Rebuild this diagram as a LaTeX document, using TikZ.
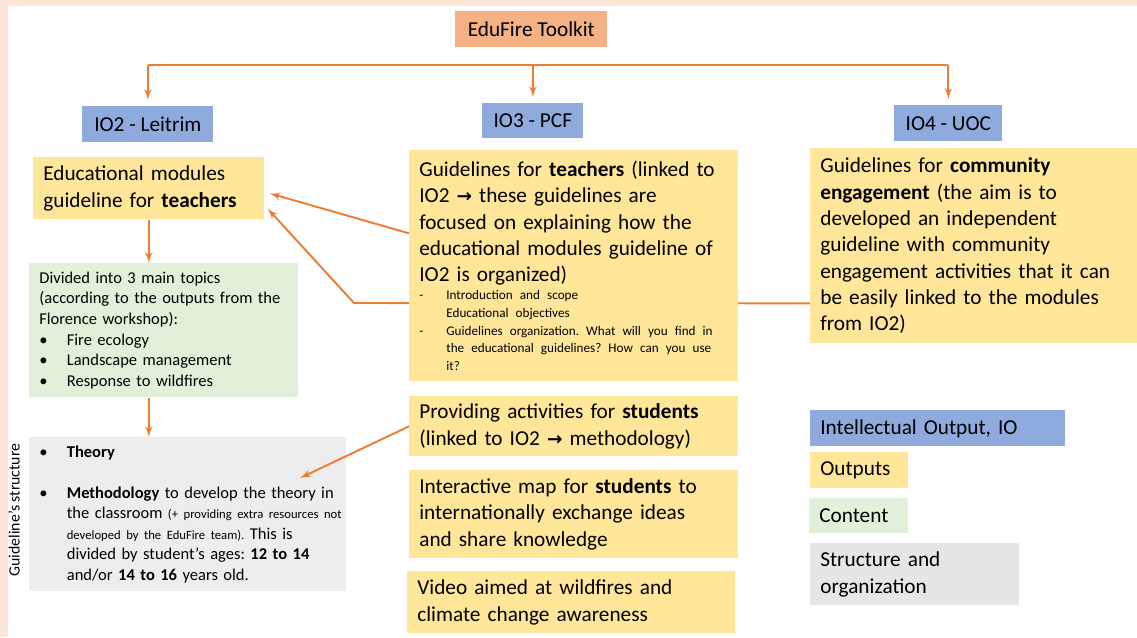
\documentclass[tikz,border=0pt]{standalone}
\usepackage{fontspec}
\setmainfont{Carlito}
\newfontfamily\symfont{DejaVu Sans}
\usetikzlibrary{arrows,backgrounds}
\frenchspacing

\definecolor{frame}{HTML}{FCE4D6}
\definecolor{linkor}{HTML}{ED7D31}
\definecolor{toolor}{HTML}{F4B183}
\definecolor{iobl}{HTML}{8FAADC}
\definecolor{outye}{HTML}{FFE699}
\definecolor{contgr}{HTML}{E2F0D9}
\definecolor{strgr}{HTML}{EDEDED}
\definecolor{leggr}{HTML}{E7E6E6}

\newcommand{\toarr}{{\symfont\bfseries\fontsize{10.5}{10}\selectfont →}}
\newcommand{\bul}{\makebox[0.55cm][l]{•}}
\newcommand{\dsh}{\makebox[0.54cm][l]{-}}

\tikzset{
    box/.style={anchor=north west, inner xsep=0.2cm, inner ysep=0pt, align=left,
        font=\fontsize{12.1}{15}\selectfont},
    iobox/.style={box, fill=iobl, align=center},
    outbox/.style={box, fill=outye},
    contbox/.style={box, fill=contgr, font=\fontsize{9.4}{11.7}\selectfont},
    strbox/.style={box, fill=strgr, font=\fontsize{9.4}{11.7}\selectfont},
    link/.style={draw=linkor, line width=1.1pt},
    arr/.style={link, -latex'}
}

\begin{document}
\begin{tikzpicture}[x=0.02cm, y=-0.02cm]
    \useasboundingbox (0,0) rectangle (1137,637);
    \fill [frame] (0,0) rectangle (1137,6);
    \fill [frame] (0,0) rectangle (8,637);

    % top of the tree
    \node [box, fill=toolor, align=center, minimum width=3.04cm, minimum height=0.72cm] (tool) at (455,11) {EduFire Toolkit};
    \node [iobox, minimum width=2.62cm, minimum height=0.72cm] (io2) at (82,106) {IO2 - Leitrim};
    \node [iobox, minimum width=2.02cm, minimum height=0.70cm] (io3) at (482,103) {IO3 - PCF};
    \node [iobox, minimum width=2.16cm, minimum height=0.72cm] (io4) at (894,105) {IO4 - UOC};
    \coordinate (bar) at (533,65);

    % IO2 column
    \node [outbox, text width=4.22cm, minimum height=1.24cm] (modl) at (33,157)
        {Educational modules\\guideline for \textbf{teachers}};
    \node [contbox, text width=4.98cm, minimum height=2.68cm] (topics) at (29,263)
        {Divided into 3 main topics\\(according to the outputs from the\\Florence workshop):\\
         \bul Fire ecology\\\bul Landscape management\\\bul Response to wildfires};
    \node [strbox, text width=5.94cm, minimum height=3.08cm] (struct) at (29,437)
        {\bul\textbf{Theory}\par\vspace{11.7pt}
         \mbox{\bul\textbf{Methodology} to develop the theory in}\\
         \mbox{\hspace*{0.55cm}the classroom {\fontsize{7.2}{11.7}\selectfont(+ providing extra resources not}}\\
         \mbox{\hspace*{0.55cm}{\fontsize{7.2}{11.7}\selectfont developed by the EduFire team).} This is}\\
         \mbox{\hspace*{0.55cm}divided by student’s ages: \textbf{12 to 14}}\\
         \mbox{\hspace*{0.55cm}and/or \textbf{14 to 16} years old.}};
    \node [rotate=90, font=\fontsize{9}{11}\selectfont] (glabel) at (14,510) {Guideline’s structure};

    % IO3 column
    \node [outbox, text width=6.18cm, minimum height=4.62cm] (teach) at (409,150)
        {Guidelines for \textbf{teachers} (linked to\\IO2 \toarr{} these guidelines are\\
         focused on explaining how the\\educational modules guideline of\\IO2 is organized)\par
         {\fontsize{7.5}{10.1}\selectfont
         \dsh Introduction and scope\\\hspace*{0.54cm}Educational objectives\\
         \dsh Guidelines organization. What will you find in\\
         \hspace*{0.54cm}the educational guidelines? How can you use\\\hspace*{0.54cm}it?\par}};
    \node [outbox, text width=6.18cm, minimum height=1.20cm] (acts) at (409,396)
        {Providing activities for \textbf{students}\\(linked to IO2 \toarr{} methodology)};
    \node [outbox, text width=6.18cm, minimum height=1.76cm] (imap) at (409,470)
        {Interactive map for \textbf{students} to\\internationally exchange ideas\\and share knowledge};
    \node [outbox, text width=6.16cm, minimum height=1.24cm] (video) at (407,571)
        {Video aimed at wildfires and\\climate change awareness};

    % IO4 column
    \node [outbox, text width=6.14cm, minimum height=3.90cm] (comm) at (810,148)
        {Guidelines for \textbf{community}\\\textbf{engagement} (the aim is to\\developed an independent\\
         guideline with community\\engagement activities that it can\\be easily linked to the modules\\from IO2)};

    % legend
    \node [box, fill=iobl, text width=4.70cm, minimum height=0.72cm] (lgio) at (810,410) {Intellectual Output, IO};
    \node [outbox, text width=1.56cm, minimum height=0.72cm] (lgout) at (810,452) {Outputs};
    \node [box, fill=contgr, text width=1.58cm, minimum height=0.70cm] (lgcont) at (809,498) {Content};
    \node [box, fill=leggr, text width=3.78cm, minimum height=1.24cm] (lgstr) at (810,543) {Structure and\\organization};

    % connectors
    \draw [link] (io2.north |- bar) -- (io4.north |- bar);
    \draw [arr, shorten >=3.4pt] (io2.north |- bar) -- (io2.north);
    \draw [arr, shorten >=3.4pt] (bar) -- (io3.north);
    \draw [arr, shorten >=3.4pt] (io4.north |- bar) -- (io4.north);
    \draw [arr] (modl.south) -- (modl.south |- topics.north);
    \draw [arr] (topics.south -| modl.south) -- (struct.north -| modl.south);
    \draw [arr] ([yshift=0.65cm]teach.west) -- ([xshift=0.1cm, yshift=-0.1cm]modl.east);
    \coordinate (bend) at (354,303);
    \coordinate (meth) at (300,478);
    \begin{pgfonlayer}{background}
        \draw [arr] ([yshift=-1.15cm]comm.west) -- (bend) -- ([xshift=0.06cm, yshift=0.22cm]modl.south east);
    \end{pgfonlayer}
    \draw [arr] (acts.west) -- (meth);
\end{tikzpicture}
\end{document}
